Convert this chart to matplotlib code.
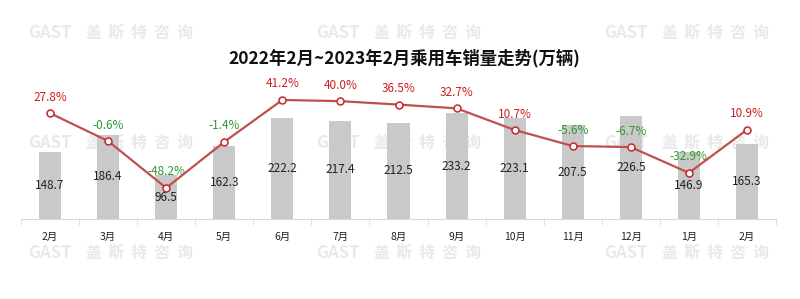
import numpy as np
import matplotlib
matplotlib.use("Agg")
from matplotlib import pyplot as plt

plt.rcParams['font.family'] = ['Noto Sans CJK SC', 'DejaVu Sans']

months = ['2月', '3月', '4月', '5月', '6月', '7月', '8月', '9月', '10月', '11月', '12月', '1月', '2月']
sales = [148.7, 186.4, 96.5, 162.3, 222.2, 217.4, 212.5, 233.2, 223.1, 207.5, 226.5, 146.9, 165.3]
growth = [27.8, -0.6, -48.2, -1.4, 41.2, 40.0, 36.5, 32.7, 10.7, -5.6, -6.7, -32.9, 10.9]

fig = plt.figure(figsize=(8, 2.99), dpi=100)

# watermarks, drawn char by char to get the wide spacing
wm_chars = ['盖', '斯', '特', '咨', '询']
for yy in [33, 143, 253]:
    for x0 in [0, 288, 576]:
        fig.text((x0 + 50) / 800, 1 - yy / 299, 'GAST', ha='center', va='center',
                 fontsize=12, fontweight='bold', color='#E9E9E9', zorder=-5)
        for k, ch in enumerate(wm_chars):
            fig.text((x0 + 93 + k * 22.8) / 800, 1 - yy / 299, ch, ha='center', va='center',
                     fontsize=11.5, fontweight='bold', color='#E9E9E9', zorder=-5)

ax = fig.add_axes([21 / 800, 1 - 219 / 299, 755 / 800, 139 / 299])
ax.patch.set_alpha(0)
x = np.arange(len(months))
ax.bar(x, sales, width=0.38, color='#C9C9C9', zorder=2)
ax.set_xlim(-0.5, len(months) - 0.5)
ax.set_ylim(0, 307)
for i, v in enumerate(sales):
    ax.text(i, v / 2, f'{v:.1f}', ha='center', va='center', fontsize=8.5, color='#222222', zorder=5)

for s in ['top', 'right', 'left']:
    ax.spines[s].set_visible(False)
ax.spines['bottom'].set_color('#D9D9D9')
ax.set_yticks([])
ax.set_xticks(x)
ax.set_xticklabels(months, fontsize=7.5, color='#222222')
ax.tick_params(axis='x', which='major', length=0, pad=9)
ax.set_xticks(np.arange(-0.5, len(months)), minor=True)
ax.tick_params(axis='x', which='minor', length=4, color='#D9D9D9')

ax2 = ax.twinx()
ax2.set_ylim(-79.8, 61.5)
ax2.plot(x, growth, color='#C0504D', lw=1.6, marker='o', ms=5,
         mfc='white', mec='#C8262C', mew=1.1, zorder=4)
for i, g in enumerate(growth):
    c = '#CC1F1F' if g >= 0 else '#2E9A2E'
    ax2.annotate(f'{g:.1f}%', (i, g), xytext=(0, 11.5), textcoords='offset points',
                 ha='center', va='center', fontsize=8.5, color=c)
ax2.axis('off')

fig.text(404 / 800, 1 - 58 / 299, '2022年2月~2023年2月乘用车销量走势(万辆)',
         ha='center', va='center', fontsize=12.5, fontweight='bold', color='#111111')

fig.savefig('out.png', dpi=100)
